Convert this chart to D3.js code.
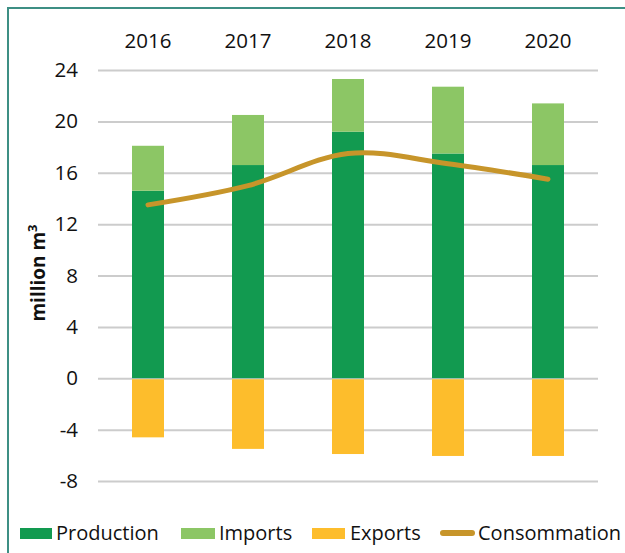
<!DOCTYPE html>
<html>
<head>
<meta charset="utf-8">
<script src="https://cdn.jsdelivr.net/npm/d3@7"></script>
<style>
  html, body { margin: 0; padding: 0; background: #fff; }
  svg { display: block; font-family: "Open Sans", "Noto Sans", sans-serif; }
</style>
</head>
<body>
<svg id="chart" width="625" height="553"></svg>
<script>
const years = ["2016", "2017", "2018", "2019", "2020"];
const production = [14.6, 16.6, 19.2, 17.5, 16.6];
const imports = [3.5, 3.9, 4.1, 5.2, 4.8];
const exports = [-4.6, -5.5, -5.9, -6.05, -6.05];
const consommation = [13.5, 15.0, 17.5, 16.7, 15.5];
const yTicks = [24, 20, 16, 12, 8, 4, 0, -4, -8];
const seriesNames = ["Production", "Imports", "Exports", "Consommation"];
const colors = { Production: "#129a50", Imports: "#8cc665", Exports: "#fdbd2c", Consommation: "#c7952a" };

const svg = d3.select("#chart");

// frame
svg.append("rect").attr("x", 8).attr("y", 8).attr("width", 640).attr("height", 570)
  .attr("fill", "none").attr("stroke", "#3d8f84").attr("stroke-width", 2);

const x = d3.scaleBand().domain(years).range([98, 598]).paddingInner(0.68).paddingOuter(0.34);
const y = d3.scaleLinear().domain([-8, 24]).range([481, 70]);

// gridlines
const yAxis = d3.axisLeft(y).tickValues(yTicks).tickSize(-(598 - 98)).tickPadding(20).tickFormat(d => String(d));
const gy = svg.append("g").attr("transform", "translate(98,0)").call(yAxis);
gy.select(".domain").remove();
gy.selectAll(".tick line").attr("stroke", "#cccccc").attr("stroke-width", 2);
gy.selectAll(".tick text").attr("font-size", 20.5).attr("fill", "#111").attr("x", -20)
  .attr("font-family", "'Open Sans', sans-serif");

// top axis of years
const xAxis = d3.axisTop(x).tickSize(0).tickPadding(0);
const gx = svg.append("g").attr("transform", "translate(0,48)").call(xAxis);
gx.select(".domain").remove();
gx.selectAll(".tick text").attr("font-size", 20.5).attr("fill", "#111").attr("dy", 0)
  .attr("font-family", "'Open Sans', sans-serif");

// bars
const bars = svg.append("g");
years.forEach((yr, i) => {
  bars.append("rect").attr("x", x(yr)).attr("width", x.bandwidth())
    .attr("y", y(production[i])).attr("height", y(0) - y(production[i]))
    .attr("fill", colors.Production);
  bars.append("rect").attr("x", x(yr)).attr("width", x.bandwidth())
    .attr("y", y(production[i] + imports[i])).attr("height", y(production[i]) - y(production[i] + imports[i]))
    .attr("fill", colors.Imports);
  bars.append("rect").attr("x", x(yr)).attr("width", x.bandwidth())
    .attr("y", y(0) + 1).attr("height", y(exports[i]) - y(0) - 1)
    .attr("fill", colors.Exports);
});

// consommation line
const line = d3.line()
  .x((d, i) => x(years[i]) + x.bandwidth() / 2)
  .y(d => y(d))
  .curve(d3.curveCardinal.tension(0));
svg.append("path").datum(consommation).attr("d", line)
  .attr("fill", "none").attr("stroke", colors.Consommation).attr("stroke-width", 5)
  .attr("stroke-linecap", "round");

// y title
svg.append("text").attr("transform", "translate(45,273) rotate(-90)")
  .attr("text-anchor", "middle").attr("font-size", 19).attr("font-weight", "bold").attr("fill", "#111")
  .html('million m<tspan dy="-8" font-size="13">3</tspan>');

// legend
const legend = svg.append("g");
const legendItems = [
  { name: "Production", sx: 20, sw: 32, tx: 56 },
  { name: "Imports", sx: 181, sw: 34, tx: 219 },
  { name: "Exports", sx: 312, sw: 33, tx: 350 },
  { name: "Consommation", sx: 440, sw: 35, tx: 478 }
];
legendItems.forEach(it => {
  if (it.name === "Consommation") {
    legend.append("line").attr("x1", it.sx + 3).attr("x2", it.sx + it.sw - 3).attr("y1", 533).attr("y2", 533)
      .attr("stroke", colors.Consommation).attr("stroke-width", 6).attr("stroke-linecap", "round");
  } else {
    legend.append("rect").attr("x", it.sx).attr("y", 528).attr("width", it.sw).attr("height", 11)
      .attr("fill", colors[it.name]);
  }
  legend.append("text").attr("x", it.tx).attr("y", 540).attr("font-size", 20).attr("fill", "#111")
    .text(it.name);
});
</script>
</body>
</html>
